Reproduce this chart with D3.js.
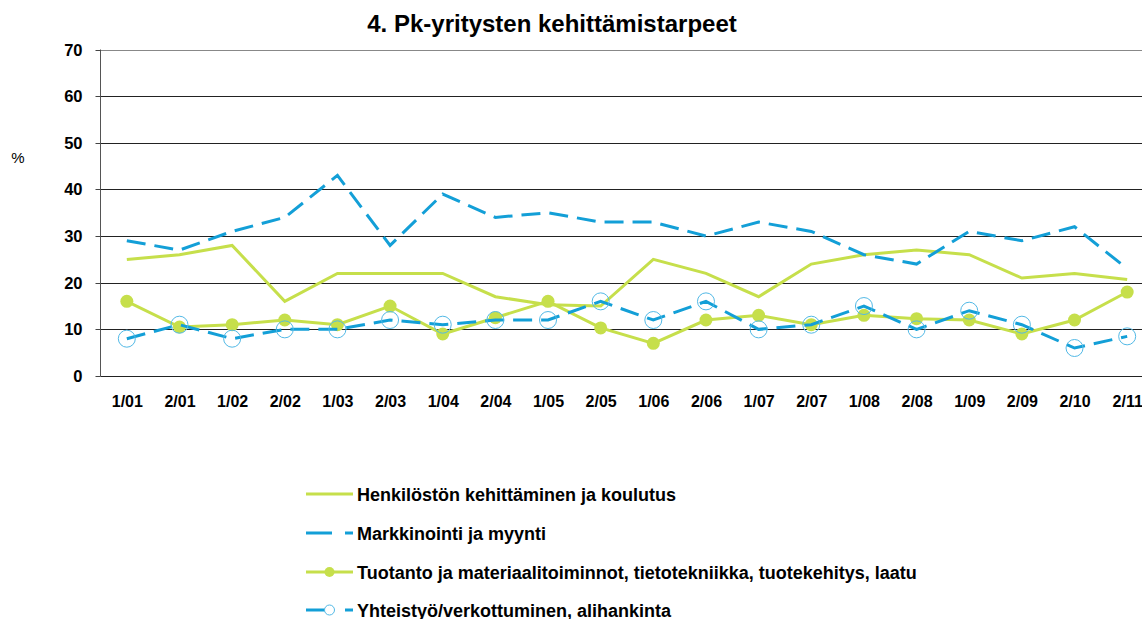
<!DOCTYPE html>
<html><head><meta charset="utf-8">
<script src="https://cdn.jsdelivr.net/npm/d3@7"></script>
<style>body{margin:0;background:#fff}svg{display:block;font-family:"Liberation Sans",Arial,sans-serif}</style>
</head><body><svg id="c" width="1142" height="619"></svg>
<script>
const categories = ["1/01","2/01","1/02","2/02","1/03","2/03","1/04","2/04","1/05","2/05","1/06","2/06","1/07","2/07","1/08","2/08","1/09","2/09","2/10","2/11"];
const henkilosto = [25,26,28,16,22,22,22,17,15.3,15,25,22,17,24,26,27,26,21,22,20.7];
const markkinointi = [29,27,31,34,43,28,39,34,35,33,33,30,33,31,26,24,31,29,32,23];
const tuotanto = [16,10.5,11,12,11,15,9,12.5,16,10.3,7,12,13,11,13,12.3,12,9,12,18];
const yhteistyo = [8,11,8,10,10,12,11,12,12,16,12,16,10,11,15,10,14,11,6,8.5];
const yTicks = [0,10,20,30,40,50,60,70];
const seriesNames = ["Henkilöstön kehittäminen ja koulutus","Markkinointi ja myynti","Tuotanto ja materiaalitoiminnot, tietotekniikka, tuotekehitys, laatu","Yhteistyö/verkottuminen, alihankinta"];

const green = "#c6df4b", blue = "#139fd7", circ = "#52b9e6";
const FF = "Liberation Sans, Arial, sans-serif";
const svg = d3.select("#c");
const L = 100.5, R = 1153.5, T = 49.5, B = 376;
const x = d3.scalePoint().domain(categories).range([L, R]).padding(0.5);
const y = d3.scaleLinear().domain([0,70]).range([B, T]);

svg.append("text").attr("x",552).attr("y",32).attr("text-anchor","middle")
  .attr("font-size",24).attr("font-weight","bold").attr("font-family",FF).text("4. Pk-yritysten kehittämistarpeet");

// gridlines
const grid = svg.append("g");
grid.selectAll("line").data(yTicks.filter(d=>d>0)).join("line")
  .attr("x1",L).attr("x2",1142).attr("y1",d=>Math.round(y(d))+0.5).attr("y2",d=>Math.round(y(d))+0.5)
  .attr("stroke",d=>d===70?"#888":"#222").attr("stroke-width",1);

// y axis
const ya = svg.append("g").attr("transform",`translate(${L},0)`)
  .call(d3.axisLeft(y).tickValues(yTicks).tickSize(5).tickPadding(13).tickFormat(d3.format("d")));
ya.select(".domain").attr("stroke","#555").attr("d",`M0,${y(70)}V${B}`);
ya.selectAll(".tick line").attr("stroke","#444");
ya.selectAll(".tick").attr("transform",d=>`translate(0,${Math.round(y(d))+0.5})`);
ya.selectAll("text").attr("font-size",16.5).attr("font-weight","bold").attr("fill","#000").attr("font-family",FF);
// x axis
const xa = svg.append("g").attr("transform",`translate(0,${Math.round(B)+0.5})`)
  .call(d3.axisBottom(x).tickSize(0).tickPadding(19));
xa.select(".domain").attr("stroke","#222").attr("d",`M${L},0H1142`);
xa.selectAll("text").attr("font-size",16).attr("font-weight","bold").attr("fill","#000").attr("font-family",FF);

svg.append("text").attr("x",18).attr("y",163).attr("text-anchor","middle").attr("font-size",15).attr("font-family",FF).text("%");

const line = d3.line().x((d,i)=>x(categories[i])).y(d=>y(d));
const plot = svg.append("g");
plot.append("path").datum(henkilosto).attr("d",line).attr("fill","none").attr("stroke",green).attr("stroke-width",3);
plot.append("path").datum(markkinointi).attr("d",line).attr("fill","none").attr("stroke",blue).attr("stroke-width",3).attr("stroke-dasharray","19,9");
plot.append("path").datum(tuotanto).attr("d",line).attr("fill","none").attr("stroke",green).attr("stroke-width",3);
plot.selectAll(".dot").data(tuotanto).join("circle").attr("class","dot")
  .attr("cx",(d,i)=>x(categories[i])).attr("cy",d=>y(d)).attr("r",6.5).attr("fill",green);
plot.append("path").datum(yhteistyo).attr("d",line).attr("fill","none").attr("stroke",blue).attr("stroke-width",3).attr("stroke-dasharray","19,9");
plot.selectAll(".ring").data(yhteistyo).join("circle").attr("class","ring")
  .attr("cx",(d,i)=>x(categories[i])).attr("cy",d=>y(d)).attr("r",8.5).attr("fill","none").attr("stroke",circ).attr("stroke-width",1);

// legend
const lg = svg.append("g");
const rows = [494,533,572,610];
seriesNames.forEach((n,i)=>{
  const g = lg.append("g").attr("transform",`translate(0,${rows[i]})`);
  const col = (i===0||i===2)?green:blue;
  const ln = g.append("line").attr("x1",306).attr("x2",353).attr("y1",0).attr("y2",0).attr("stroke",col).attr("stroke-width",3);
  if(i===1||i===3) ln.attr("stroke-dasharray","26,13");
  if(i===2) g.append("circle").attr("cx",329.5).attr("cy",0).attr("r",5).attr("fill",green);
  if(i===3) g.append("circle").attr("cx",329.5).attr("cy",0).attr("r",5).attr("fill","#fff").attr("stroke",circ).attr("stroke-width",1);
  g.append("text").attr("x",357).attr("y",6.5).attr("font-size",18).attr("font-weight","bold").attr("font-family",FF).text(n);
});
</script></body></html>
